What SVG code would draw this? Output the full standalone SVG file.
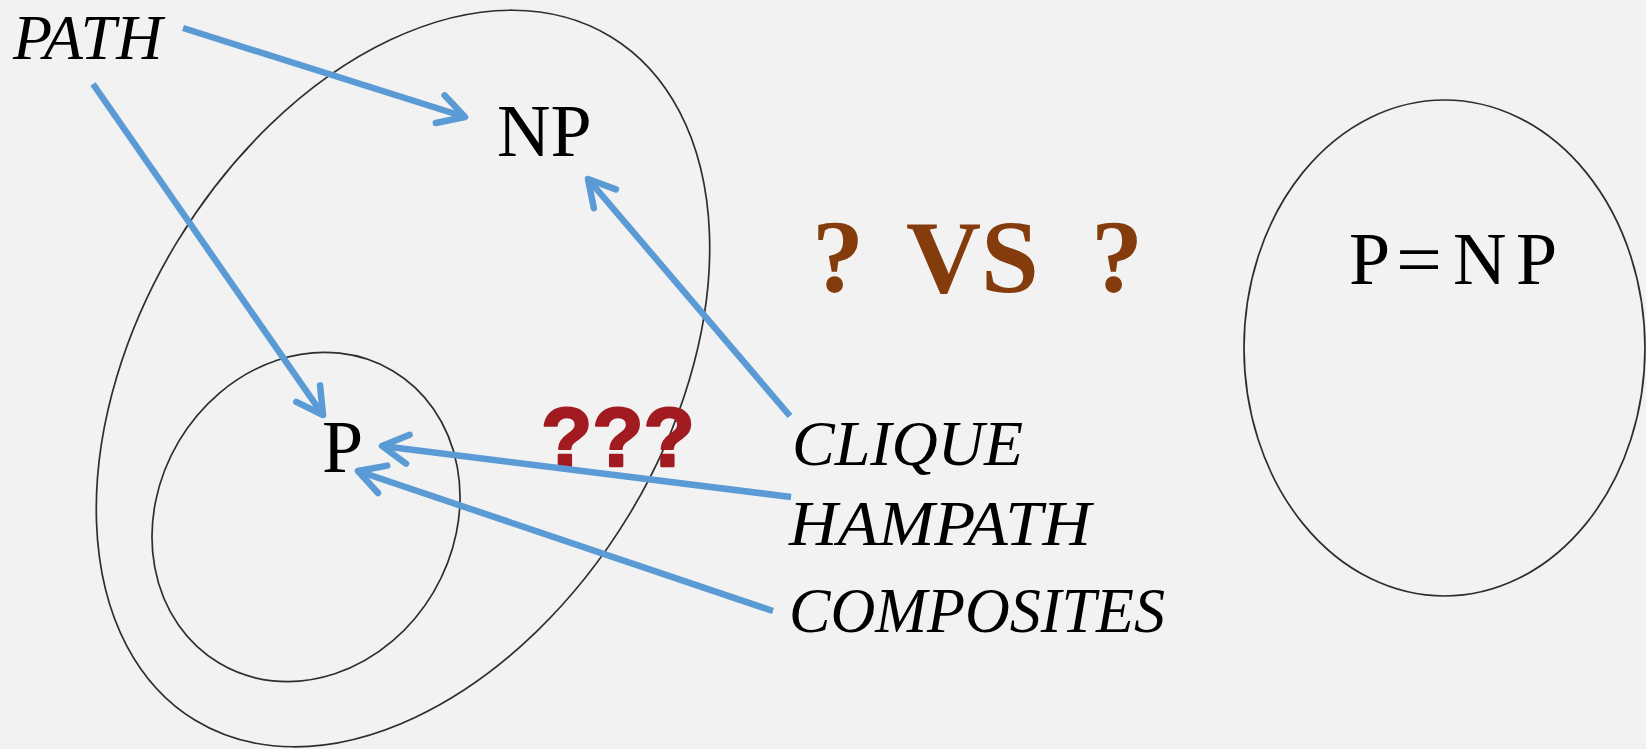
<svg xmlns="http://www.w3.org/2000/svg" width="1646" height="749" viewBox="0 0 1646 749">
  <style>
    .set { fill: none; stroke: #2e2e2e; stroke-width: 1.7; }
    .math { font-family: "Liberation Serif", "Times New Roman", serif; fill: #000; }
    .prob { font-family: "Liberation Serif", "Times New Roman", serif; font-style: italic; font-size: 64px; fill: #000; }
    .vs { font-family: "Liberation Serif", "Times New Roman", serif; font-weight: bold; font-size: 104px; fill: #843C0C; }
    .qqq { font-family: "Liberation Sans", Arial, sans-serif; font-weight: 900; font-size: 84px; fill: #A11B20; stroke: #A11B20; stroke-width: 2.5; stroke-linejoin: round; }
    .conn { fill: none; stroke: #5B9BD5; stroke-width: 6.5; stroke-linecap: butt; }
  </style>
  <defs>
    <marker id="ah" markerUnits="userSpaceOnUse" markerWidth="50" markerHeight="50" viewBox="-35 -25 50 50" refX="0" refY="0" orient="auto" overflow="visible">
      <path d="M-26,-14.5 L0,0 L-26,14.5" fill="none" stroke="#5B9BD5" stroke-width="6.5" stroke-linecap="round" stroke-linejoin="round"/>
    </marker>
  </defs>
  <rect x="0" y="0" width="1646" height="749" fill="#F2F2F2"/>

  <g id="np-set">
    <ellipse class="set" cx="403" cy="378.5" rx="400" ry="264" transform="rotate(-58.7 403 378.5)"/>
    <text class="math" x="497" y="156" font-size="74">NP</text>
  </g>

  <g id="p-set">
    <ellipse class="set" cx="306" cy="517" rx="170" ry="148" transform="rotate(-59.4 306 517)"/>
    <text class="math" x="322" y="472" font-size="74">P</text>
  </g>

  <g id="p-equals-np">
    <ellipse class="set" cx="1444.5" cy="348" rx="200.5" ry="248"/>
    <text class="math" y="284" font-size="74"><tspan x="1349">P</tspan><tspan x="1396" textLength="46" lengthAdjust="spacingAndGlyphs">=</tspan><tspan x="1453">N</tspan><tspan x="1516">P</tspan></text>
  </g>

  <g id="label-path"><text class="prob" x="13" y="59">PATH</text></g>
  <g id="label-clique"><text class="prob" x="792" y="465">CLIQUE</text></g>
  <g id="label-hampath"><text class="prob" x="789" y="545" textLength="302" lengthAdjust="spacingAndGlyphs">HAMPATH</text></g>
  <g id="label-composites"><text class="prob" x="789" y="632" textLength="376" lengthAdjust="spacingAndGlyphs">COMPOSITES</text></g>

  <g id="unknown"><text class="qqq" x="541" y="466">???</text></g>

  <g id="versus">
    <text class="vs" x="812" y="292">?</text>
    <text class="vs" x="906" y="292">VS</text>
    <text class="vs" x="1091" y="292">?</text>
  </g>

  <g id="connectors">
    <line class="conn" x1="183" y1="28" x2="465" y2="117" marker-end="url(#ah)"/>
    <line class="conn" x1="93" y1="84" x2="323" y2="415" marker-end="url(#ah)"/>
    <line class="conn" x1="790" y1="416" x2="588" y2="179" marker-end="url(#ah)"/>
    <line class="conn" x1="791" y1="497" x2="382" y2="446" marker-end="url(#ah)"/>
    <line class="conn" x1="773" y1="611" x2="358" y2="471" marker-end="url(#ah)"/>
  </g>
</svg>
